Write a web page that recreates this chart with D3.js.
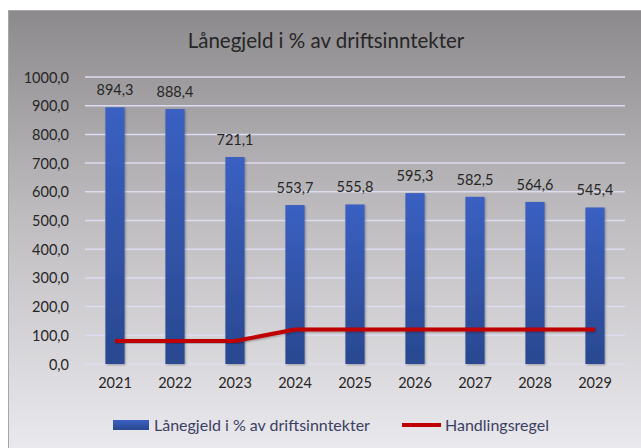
<!DOCTYPE html>
<html><head><meta charset="utf-8">
<script src="https://cdn.jsdelivr.net/npm/d3@7"></script>
<style>html,body{margin:0;padding:0;background:#fff;overflow:hidden}svg{display:block}</style>
</head><body>
<svg id="c" width="641" height="448"></svg>
<script>
const years = ["2021","2022","2023","2024","2025","2026","2027","2028","2029"];
const debtValues = [894.3, 888.4, 721.1, 553.7, 555.8, 595.3, 582.5, 564.6, 545.4];
const ruleValues = [80, 80, 80, 120, 120, 120, 120, 120, 120];
const yTicks = [0,100,200,300,400,500,600,700,800,900,1000];
const titleText = "Lånegjeld i % av driftsinntekter";
const seriesNames = ["Lånegjeld i % av driftsinntekter", "Handlingsregel"];

const svg = d3.select("#c");
const font = "Lato, 'Open Sans', sans-serif";
const defs = svg.append("defs");
const bg = defs.append("linearGradient").attr("id","bg").attr("x1",0).attr("y1",0).attr("x2",0).attr("y2",1);
bg.append("stop").attr("offset","0%").attr("stop-color","#8c8a8d");
bg.append("stop").attr("offset","45%").attr("stop-color","#bdbbbe");
bg.append("stop").attr("offset","100%").attr("stop-color","#ebeaee");
const bar = defs.append("linearGradient").attr("id","bar").attr("x1",0).attr("y1",0).attr("x2",0).attr("y2",1);
bar.append("stop").attr("offset","0%").attr("stop-color","#3a60c2");
bar.append("stop").attr("offset","100%").attr("stop-color","#2a4890");
const sh = defs.append("filter").attr("id","sh").attr("x","-20%").attr("y","-20%").attr("width","140%").attr("height","140%");
sh.append("feDropShadow").attr("dx",1).attr("dy",1).attr("stdDeviation",1).attr("flood-color","#000").attr("flood-opacity",0.3);

svg.append("rect").attr("x",8.5).attr("y",10.5).attr("width",640).attr("height",445)
  .attr("fill","url(#bg)").attr("stroke","#a6a6a6").attr("stroke-width",1);

const x = d3.scaleBand().domain(years).range([85,625]).paddingInner(0.68).paddingOuter(0.34);
const y = d3.scaleLinear().domain([0,1000]).range([364,77]);

// gridlines
svg.append("g").selectAll("line").data(yTicks).join("line")
  .attr("x1",85).attr("x2",625).attr("y1",d=>y(d)).attr("y2",d=>y(d))
  .attr("stroke","#dcdcf0").attr("stroke-width",1.5);

// y axis labels
const yAxis = d3.axisLeft(y).tickValues(yTicks).tickSize(0).tickPadding(0)
  .tickFormat(d=>d3.format(".1f")(d).replace(".",","));
const ya = svg.append("g").attr("transform","translate(69,0)").call(yAxis);
ya.select(".domain").remove();
ya.selectAll("text").attr("font-family",font).attr("font-size",14.5).attr("fill","#262626").attr("dy","0.35em");

// x axis labels
const xAxis = d3.axisBottom(x).tickSize(0).tickPadding(0);
const xa = svg.append("g").attr("transform","translate(0,378)").call(xAxis);
xa.select(".domain").remove();
xa.selectAll("text").attr("font-family",font).attr("font-size",14.5).attr("fill","#262626").attr("dy","0.71em");

// bars
svg.append("g").attr("filter","url(#sh)").selectAll("rect").data(debtValues).join("rect")
  .attr("x",(d,i)=>x(years[i])).attr("width",x.bandwidth())
  .attr("y",d=>y(d)).attr("height",d=>y(0)-y(d)).attr("fill","url(#bar)");

// value labels
svg.append("g").selectAll("text").data(debtValues).join("text")
  .attr("x",(d,i)=>x(years[i])+x.bandwidth()/2).attr("y",d=>y(d)-12)
  .attr("text-anchor","middle").attr("font-family",font).attr("font-size",14.5).attr("fill","#262626")
  .text(d=>d3.format(".1f")(d).replace(".",","));

// rule line
const line = d3.line().x((d,i)=>x(years[i])+x.bandwidth()/2).y(d=>y(d));
svg.append("path").datum(ruleValues).attr("d",line).attr("fill","none")
  .attr("stroke","#c00000").attr("stroke-width",4).attr("stroke-linejoin","round").attr("filter","url(#sh)");

// title
svg.append("text").attr("x",326).attr("y",48).attr("text-anchor","middle")
  .attr("font-family",font).attr("font-size",20.5).attr("fill","#262626").text(titleText);

// legend
const lg = svg.append("g");
lg.append("rect").attr("x",113).attr("y",420).attr("width",36).attr("height",10).attr("fill","url(#bar)");
lg.append("text").attr("x",154).attr("y",425).attr("dy","0.35em").attr("font-family",font).attr("font-size",16)
  .attr("fill","#3b3f63").text(seriesNames[0]);
lg.append("line").attr("x1",402).attr("x2",441).attr("y1",425).attr("y2",425).attr("stroke","#c00000").attr("stroke-width",4);
lg.append("text").attr("x",445).attr("y",425).attr("dy","0.35em").attr("font-family",font).attr("font-size",16)
  .attr("fill","#3b3f63").text(seriesNames[1]);
</script>
</body></html>
